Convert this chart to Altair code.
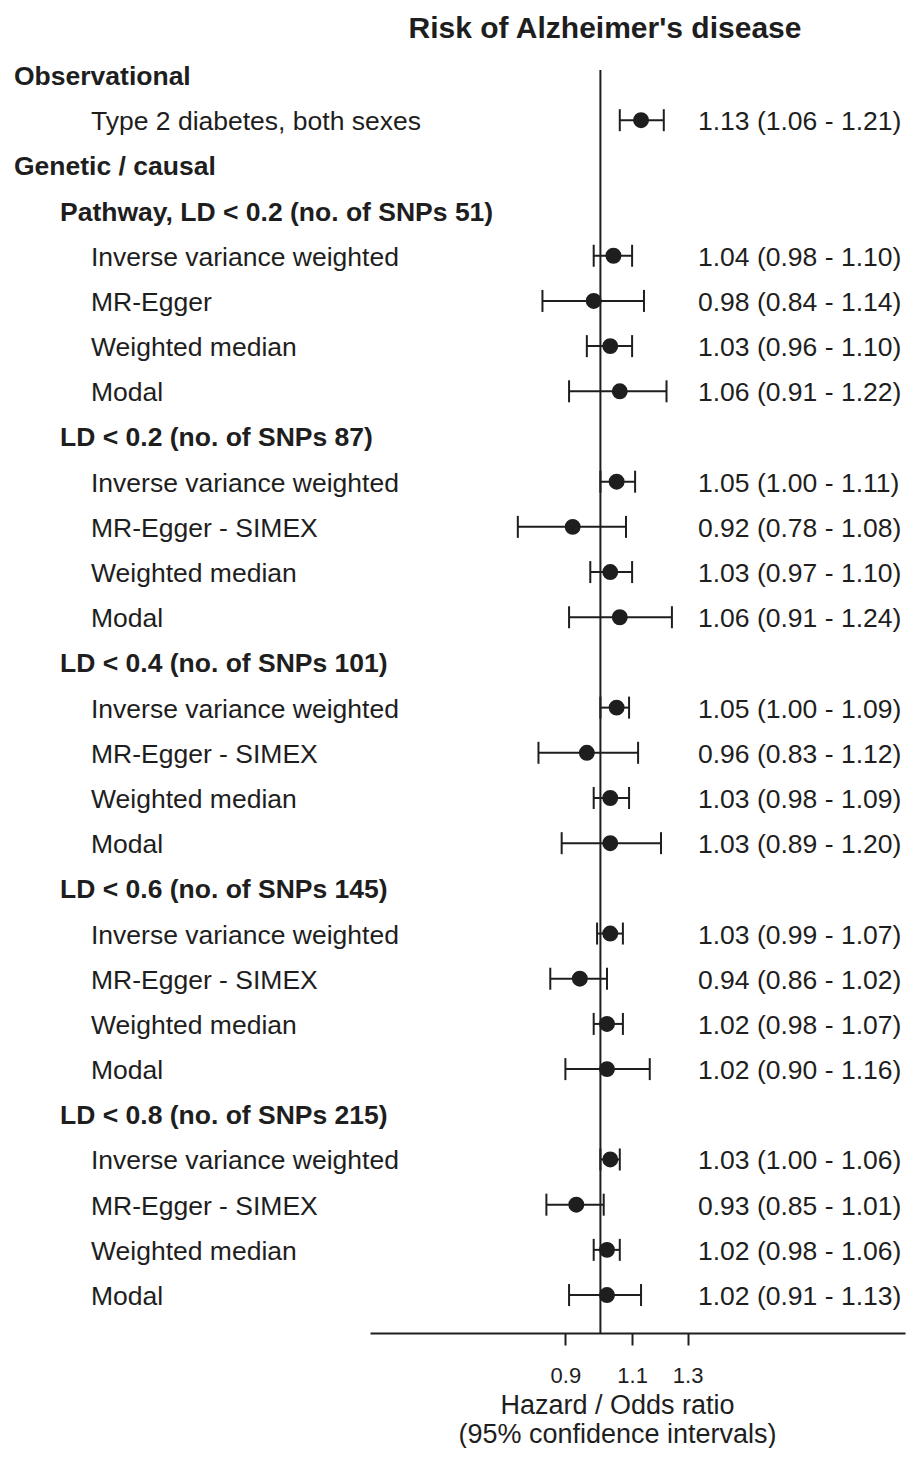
import altair as alt
import pandas as pd

FONT = "Liberation Sans"
C = "#1e1e1e"

labels = [
    "Observational", "Type 2 diabetes, both sexes",
    "Genetic / causal",
    "Pathway, LD < 0.2 (no. of SNPs 51)",
    "Inverse variance weighted", "MR-Egger", "Weighted median", "Modal",
    "LD < 0.2 (no. of SNPs 87)",
    "Inverse variance weighted", "MR-Egger - SIMEX", "Weighted median", "Modal",
    "LD < 0.4 (no. of SNPs 101)",
    "Inverse variance weighted", "MR-Egger - SIMEX", "Weighted median", "Modal",
    "LD < 0.6 (no. of SNPs 145)",
    "Inverse variance weighted", "MR-Egger - SIMEX", "Weighted median", "Modal",
    "LD < 0.8 (no. of SNPs 215)",
    "Inverse variance weighted", "MR-Egger - SIMEX", "Weighted median", "Modal",
]
levels = [0, 2, 0, 1, 2, 2, 2, 2, 1, 2, 2, 2, 2, 1, 2, 2, 2, 2, 1, 2, 2, 2, 2, 1, 2, 2, 2, 2]
est = [None, 1.13, None, None, 1.04, 0.98, 1.03, 1.06, None, 1.05, 0.92, 1.03, 1.06,
       None, 1.05, 0.96, 1.03, 1.03, None, 1.03, 0.94, 1.02, 1.02, None, 1.03, 0.93, 1.02, 1.02]
lo = [None, 1.06, None, None, 0.98, 0.84, 0.96, 0.91, None, 1.00, 0.78, 0.97, 0.91,
      None, 1.00, 0.83, 0.98, 0.89, None, 0.99, 0.86, 0.98, 0.90, None, 1.00, 0.85, 0.98, 0.91]
hi = [None, 1.21, None, None, 1.10, 1.14, 1.10, 1.22, None, 1.11, 1.08, 1.10, 1.24,
      None, 1.09, 1.12, 1.09, 1.20, None, 1.07, 1.02, 1.07, 1.16, None, 1.06, 1.01, 1.06, 1.13]

txt = [f"{e:.2f} ({l:.2f} - {h:.2f})" if e is not None else "" for e, l, h in zip(est, lo, hi)]
df = pd.DataFrame({"row": list(range(len(labels))), "label": labels, "level": levels,
                   "est": est, "lo": lo, "hi": hi, "txt": txt})

W, H = 535, 1265
FS = 26.5
xs = alt.Scale(type="log", domain=[0.5, 2.5], nice=False)
ys = alt.Scale(domain=[-0.155, 27.84], reverse=True, nice=False, zero=False)

xaxis = alt.Axis(values=[0.9, 1.1, 1.3], format=".1f", grid=False,
                 labelFont=FONT, labelFontSize=22, labelColor=C, labelPadding=37,
                 labelBaseline="alphabetic",
                 labelFlush=False, labelOverlap=False,
                 tickSize=12, tickWidth=2, tickColor=C,
                 domainColor=C, domainWidth=2,
                 title=["Hazard / Odds ratio", "(95% confidence intervals)"],
                 titleFont=FONT, titleFontSize=27, titleFontWeight="normal", titleColor=C,
                 titleX=247, titleY=80, titleAlign="center", titleBaseline="alphabetic",
                 titleLineHeight=29)


def X(f):
    return alt.X(f, type="quantitative", scale=xs, axis=xaxis)


def Y():
    return alt.Y("row:Q", scale=ys, axis=None)


base = alt.Chart(df)
valid = base.transform_filter("isValid(datum.est)")

vline = alt.Chart(pd.DataFrame({"ref": [1.0]})).mark_rule(color=C, strokeWidth=2).encode(
    x=X("ref"), y=alt.value(2), y2=alt.value(H))

bars = valid.mark_rule(color=C, strokeWidth=2).encode(x=X("lo"), x2="hi", y=Y())
caps = valid.transform_fold(["lo", "hi"], as_=["end", "v"]).mark_tick(
    orient="vertical", size=22, thickness=2, color=C, opacity=1).encode(x=X("v"), y=Y())
pts = valid.mark_circle(size=254, color=C, opacity=1).encode(x=X("est"), y=Y())
vals = valid.mark_text(align="left", baseline="middle", dy=2, font=FONT, fontSize=FS, color=C).encode(
    x=alt.value(328), y=Y(), text="txt:N")

lab0 = base.transform_filter("datum.level == 0").mark_text(
    align="left", baseline="middle", dy=2, font=FONT, fontSize=FS, fontWeight="bold", color=C).encode(
    x=alt.value(14 - 370), y=Y(), text="label:N")
lab1 = base.transform_filter("datum.level == 1").mark_text(
    align="left", baseline="middle", dy=2, font=FONT, fontSize=FS, fontWeight="bold", color=C).encode(
    x=alt.value(60 - 370), y=Y(), text="label:N")
lab2 = base.transform_filter("datum.level == 2").mark_text(
    align="left", baseline="middle", dy=2, font=FONT, fontSize=FS, color=C).encode(
    x=alt.value(91 - 370), y=Y(), text="label:N")

title = alt.Chart(pd.DataFrame({"t": ["Risk of Alzheimer's disease"]})).mark_text(
    align="center", baseline="alphabetic", font=FONT, fontSize=30, fontWeight="bold", color=C).encode(
    x=alt.value(605 - 370), y=alt.value(38 - 68), text="t:N")

chart = alt.layer(vline, bars, caps, pts, vals, lab0, lab1, lab2, title).properties(
    width=W, height=H,
    padding={"left": 362, "top": 60, "right": 3, "bottom": 115},
    autosize=alt.AutoSizeParams(type="none"),
).configure_view(stroke=None)

chart.save("out.html", embed_options={"renderer": "svg", "actions": False})
